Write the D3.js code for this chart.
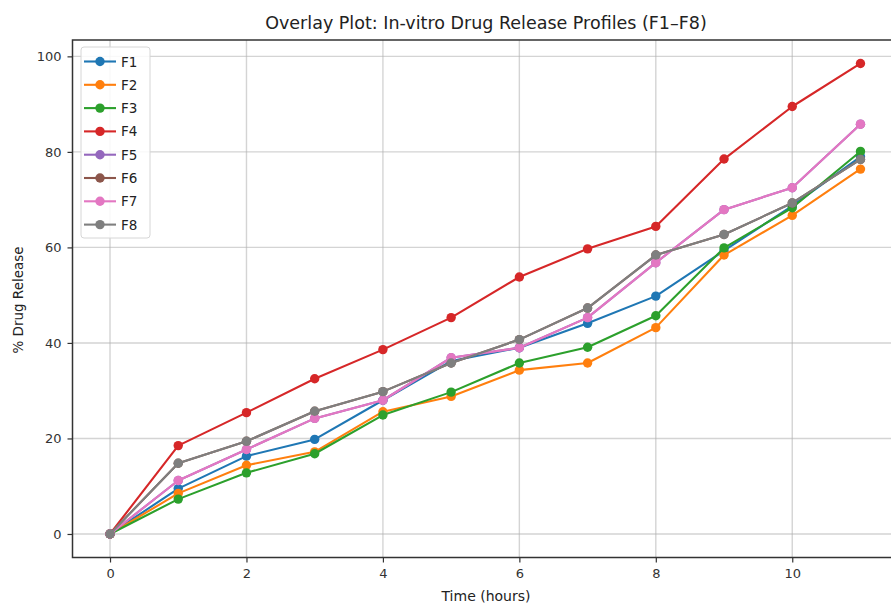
<!DOCTYPE html>
<html>
<head>
<meta charset="utf-8">
<script src="https://cdn.jsdelivr.net/npm/d3@7"></script>
<style>
  html, body { margin: 0; padding: 0; background: #fff; overflow: hidden; }
  svg { display: block; font-family: "DejaVu Sans", sans-serif; }
</style>
</head>
<body>
<svg id="chart" width="891" height="605"></svg>
<script>
const time = [0, 1, 2, 3, 4, 5, 6, 7, 8, 9, 10, 11];
const seriesNames = ["F1", "F2", "F3", "F4", "F5", "F6", "F7", "F8"];
const F1 = [0, 9.5, 16.3, 19.8, 28.0, 36.2, 39.0, 44.1, 49.8, 59.3, 68.7, 79.0];
const F2 = [0, 8.5, 14.4, 17.2, 25.6, 28.8, 34.3, 35.8, 43.2, 58.4, 66.7, 76.4];
const F3 = [0, 7.3, 12.8, 16.8, 24.9, 29.7, 35.8, 39.1, 45.7, 59.9, 68.3, 80.1];
const F4 = [0, 18.5, 25.4, 32.5, 38.6, 45.3, 53.8, 59.7, 64.4, 78.5, 89.5, 98.5];
const F5 = [0, 11.2, 17.7, 24.2, 28.0, 36.9, 39.0, 45.3, 56.8, 67.9, 72.5, 85.8];
const F6 = [0, 14.8, 19.4, 25.7, 29.8, 35.8, 40.7, 47.3, 58.4, 62.7, 69.3, 78.4];
const F7 = [0, 11.2, 17.7, 24.2, 28.0, 36.9, 39.0, 45.3, 56.8, 67.9, 72.5, 85.8];
const F8 = [0, 14.8, 19.4, 25.7, 29.8, 35.8, 40.7, 47.3, 58.4, 62.7, 69.3, 78.4];
const seriesValues = [F1, F2, F3, F4, F5, F6, F7, F8];
const colors = ["#1f77b4", "#ff7f0e", "#2ca02c", "#d62728", "#9467bd", "#8c564b", "#e377c2", "#7f7f7f"];
const xTicks = [0, 2, 4, 6, 8, 10];
const yTicks = [0, 20, 40, 60, 80, 100];
const titleText = "Overlay Plot: In-vitro Drug Release Profiles (F1\u2013F8)";
const xLabel = "Time (hours)";
const yLabel = "% Drug Release";

const svg = d3.select("#chart");
const pLeft = 72.5, pRight = 898, pTop = 40, pBottom = 557.5;

const x = d3.scaleLinear().domain([-0.55, 11.55]).range([pLeft, pRight]);
const y = d3.scaleLinear().domain([-4.925, 103.425]).range([pBottom, pTop]);

const defs = svg.append("defs");
defs.append("clipPath").attr("id", "clip").append("rect")
  .attr("x", pLeft).attr("y", pTop).attr("width", pRight - pLeft).attr("height", pBottom - pTop);

// grid
const grid = svg.append("g");
grid.selectAll(".gx").data(xTicks).join("line")
  .attr("x1", d => x(d)).attr("x2", d => x(d)).attr("y1", pTop).attr("y2", pBottom)
  .attr("stroke", "#b0b0b0").attr("stroke-opacity", 0.55).attr("stroke-width", 1.4);
grid.selectAll(".gy").data(yTicks).join("line")
  .attr("y1", d => y(d)).attr("y2", d => y(d)).attr("x1", pLeft).attr("x2", pRight)
  .attr("stroke", "#b0b0b0").attr("stroke-opacity", 0.55).attr("stroke-width", 1.4);

// series
const plot = svg.append("g").attr("clip-path", "url(#clip)");
const line = d3.line().x((d, i) => x(time[i])).y(d => y(d));
seriesValues.forEach((vals, si) => {
  const g = plot.append("g");
  g.append("path").datum(vals).attr("d", line)
    .attr("fill", "none").attr("stroke", colors[si]).attr("stroke-width", 2.1)
    .attr("stroke-linejoin", "round").attr("stroke-linecap", "square");
  g.selectAll("circle").data(vals).join("circle")
    .attr("cx", (d, i) => x(time[i])).attr("cy", d => y(d)).attr("r", 4.7)
    .attr("fill", colors[si]);
});

// axes
const xAxis = d3.axisBottom(x).tickValues(xTicks).tickSize(5).tickPadding(6).tickFormat(d3.format("d"));
const yAxis = d3.axisLeft(y).tickValues(yTicks).tickSize(5).tickPadding(6).tickFormat(d3.format("d"));
const gx = svg.append("g").attr("transform", `translate(0,${pBottom})`).call(xAxis);
const gy = svg.append("g").attr("transform", `translate(${pLeft},0)`).call(yAxis);
[gx, gy].forEach(g => {
  g.select(".domain").remove();
  g.selectAll(".tick line").attr("stroke", "#333").attr("stroke-width", 1.2);
  g.selectAll(".tick text").attr("fill", "#333").attr("font-size", 13).attr("font-family", "DejaVu Sans");
});

// spines
svg.append("rect").attr("x", pLeft).attr("y", pTop).attr("width", pRight - pLeft).attr("height", pBottom - pTop)
  .attr("fill", "none").attr("stroke", "#333").attr("stroke-width", 1.5);

// title and labels
svg.append("text").attr("x", 486).attr("y", 29).attr("text-anchor", "middle")
  .attr("font-size", 17.5).attr("fill", "#222").text(titleText);
svg.append("text").attr("x", 486).attr("y", 601).attr("text-anchor", "middle")
  .attr("font-size", 14).attr("fill", "#222").text(xLabel);
svg.append("text").attr("transform", `translate(23,${300}) rotate(-90)`)
  .attr("text-anchor", "middle").attr("font-size", 13.5).attr("fill", "#222").text(yLabel);

// legend
const lg = svg.append("g");
const lx = 81, ly = 47, lw = 69, rowH = 23.3;
lg.append("rect").attr("x", lx).attr("y", ly).attr("width", lw).attr("height", 191).attr("rx", 3)
  .attr("fill", "#fff").attr("fill-opacity", 0.85).attr("stroke", "#d6d6d6").attr("stroke-width", 1);
seriesNames.forEach((name, i) => {
  const cy = 61.5 + i * rowH;
  lg.append("line").attr("x1", 84).attr("x2", 116).attr("y1", cy).attr("y2", cy)
    .attr("stroke", colors[i]).attr("stroke-width", 2.1);
  lg.append("circle").attr("cx", 100).attr("cy", cy).attr("r", 4.7).attr("fill", colors[i]);
  lg.append("text").attr("x", 121).attr("y", cy + 5).attr("font-size", 13.5).attr("fill", "#222").text(name);
});
</script>
</body>
</html>
